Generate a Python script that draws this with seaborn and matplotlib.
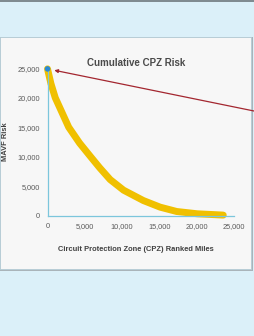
import numpy as np
import pandas as pd
from matplotlib import pyplot as plt
from matplotlib.patches import Rectangle
import seaborn as sns

# values
miles = [0, 460, 1040, 2840, 4300, 5770, 7000, 8400, 10200, 12850, 15090, 17320, 20080, 23560]
risk = [24900, 22400, 20000, 15000, 12300, 10000, 8100, 6100, 4300, 2540, 1420, 680, 290, 70]
x_ticks = [0, 5000, 10000, 15000, 20000, 25000]
y_ticks = [0, 5000, 10000, 15000, 20000, 25000]

title = 'Cumulative CPZ Risk'
x_label = 'Circuit Protection Zone (CPZ) Ranked Miles'
y_label = 'MAVF Risk'

sns.set_style('white')
plt.rcParams['font.family'] = ['Liberation Sans', 'DejaVu Sans']

W, H = 254, 336
fig = plt.figure(figsize=(W / 100, H / 100), dpi=100)
fig.patch.set_facecolor('#dbf0f9')

# slide panel and borders (behind the axes)
fig.patches.append(Rectangle((0, 1 - 2 / H), 1, 2 / H, transform=fig.transFigure,
                             facecolor='#7f8b91', edgecolor='none', zorder=-3))
fig.patches.append(Rectangle((0, 1 - 271 / H), 253 / W, 234 / H, transform=fig.transFigure,
                             facecolor='#a9b4ba', edgecolor='none', zorder=-2))
fig.patches.append(Rectangle((0, 1 - 269 / H), 251 / W, 232 / H, transform=fig.transFigure,
                             facecolor='#f7f7f7', edgecolor='#b4ccd6', linewidth=0.6, zorder=-1))

ax = fig.add_axes([47.5 / W, 1 - 215.5 / H, 186.5 / W, 147.2 / H])
ax.set_facecolor('none')

df = pd.DataFrame({'miles': miles, 'risk': risk})
sns.lineplot(data=df, x='miles', y='risk', ax=ax, color='#f0c000', linewidth=5,
             solid_capstyle='round', solid_joinstyle='round', clip_on=False)
sns.scatterplot(x=df['miles'][:1], y=df['risk'][:1], ax=ax, color='#2a8ad4', s=16,
                edgecolor='none', zorder=5, clip_on=False)

ax.set_xlim(0, 25000)
ax.set_ylim(0, 25000)
ax.set_xticks(x_ticks)
ax.set_yticks(y_ticks)
ax.set_xticklabels([f'{v:,}' for v in x_ticks])
ax.set_yticklabels([f'{v:,}' for v in y_ticks])
ax.tick_params(axis='both', labelsize=5.3, colors='#5a5a5a', length=2.5, width=0.6)
ax.tick_params(axis='both', color='#7cc6dc')
ax.tick_params(axis='x', pad=3)
ax.tick_params(axis='y', pad=3)

for s in ['top', 'right']:
    ax.spines[s].set_visible(False)
for s in ['left', 'bottom']:
    ax.spines[s].set_color('#7cc6dc')
    ax.spines[s].set_linewidth(0.9)

ax.set_xlabel(x_label, fontsize=5.4, fontweight='bold', color='#404040')
ax.xaxis.set_label_coords((136 - 47.5) / 186.5, (215.5 - 246) / 147.2)
ax.set_ylabel(y_label, fontsize=5.4, fontweight='bold', color='#404040', labelpad=6)
fig.text(136 / W, 1 - 63 / H, title, ha='center', va='center', fontsize=7,
         fontweight='bold', color='#4a4a4a')

ax.annotate('', xy=(miles[0], risk[0]), xycoords='data',
            xytext=(1.0, 1 - 111 / H), textcoords='figure fraction',
            arrowprops=dict(arrowstyle='-|>', color='#a3262f', lw=0.9,
                            mutation_scale=5, shrinkA=0, shrinkB=5))

fig.savefig('out.png', dpi=100, facecolor=fig.get_facecolor())
